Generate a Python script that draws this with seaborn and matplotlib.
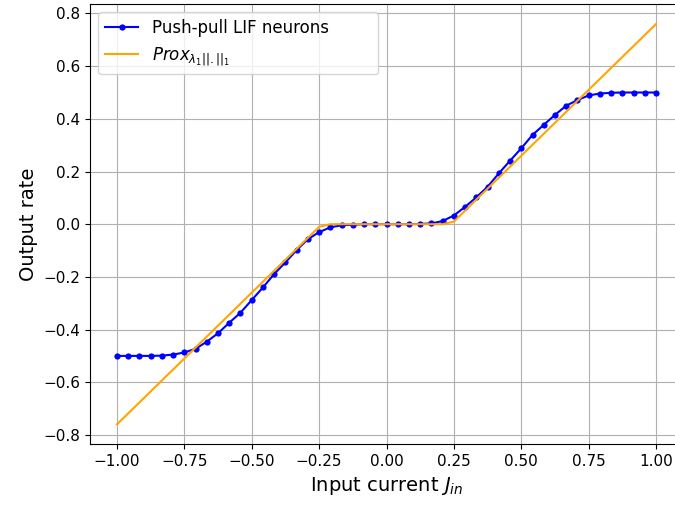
import numpy as np
import matplotlib
matplotlib.use("Agg")
import matplotlib.pyplot as plt
import seaborn as sns

# input currents (49 evenly spaced samples between -1 and 1)
j_in = [-1.0, -0.9583, -0.9167, -0.875, -0.8333, -0.7917, -0.75, -0.7083,
        -0.6667, -0.625, -0.5833, -0.5417, -0.5, -0.4583, -0.4167, -0.375,
        -0.3333, -0.2917, -0.25, -0.2083, -0.1667, -0.125, -0.0833, -0.0417,
        0.0, 0.0417, 0.0833, 0.125, 0.1667, 0.2083, 0.25, 0.2917,
        0.3333, 0.375, 0.4167, 0.4583, 0.5, 0.5417, 0.5833, 0.625,
        0.6667, 0.7083, 0.75, 0.7917, 0.8333, 0.875, 0.9167, 0.9583, 1.0]

# push-pull LIF output rate
lif_rate = [-0.500, -0.500, -0.500, -0.500, -0.499, -0.495, -0.487, -0.473,
            -0.446, -0.414, -0.374, -0.336, -0.288, -0.240, -0.189, -0.145,
            -0.098, -0.057, -0.030, -0.012, -0.004, -0.002, 0.000, 0.000,
            0.000, 0.000, 0.000, 0.001, 0.003, 0.012, 0.033, 0.066,
            0.102, 0.142, 0.193, 0.241, 0.288, 0.339, 0.377, 0.415,
            0.450, 0.471, 0.489, 0.496, 0.499, 0.500, 0.500, 0.500, 0.500]

# soft threshold (prox of l1 norm), kinks at the sample grid
prox_x = [-1.0, -0.25, -0.2083, 0.2083, 0.25, 1.0]
prox_y = [-0.76, -0.01, 0.0, 0.0, 0.01, 0.76]

fig = plt.figure(figsize=(6.75, 5.07), dpi=100)
ax = fig.add_axes([90 / 675, (507 - 444.4) / 507, 593 / 675, 440.4 / 507])

sns.lineplot(x=j_in, y=lif_rate, ax=ax, color="blue", marker=".", markersize=9,
             markeredgewidth=0, linewidth=1.5, label="Push-pull LIF neurons", sort=False)
sns.lineplot(x=prox_x, y=prox_y, ax=ax, color="orange", linewidth=1.5,
             label=r"$Prox_{\lambda_1||.||_1}$", sort=False)

ax.set_xticks(np.arange(-1.0, 1.01, 0.25))
ax.set_yticks(np.arange(-0.8, 0.81, 0.2))
ax.tick_params(labelsize=11)
ax.set_xlabel(r"Input current $J_{in}$", fontsize=14)
ax.set_ylabel("Output rate", fontsize=14)
ax.grid(True)
ax.legend(loc="upper left", fontsize=12, bbox_to_anchor=(0, 0, 0.5, 1), mode="expand")

fig.savefig("out.png", dpi=100)
